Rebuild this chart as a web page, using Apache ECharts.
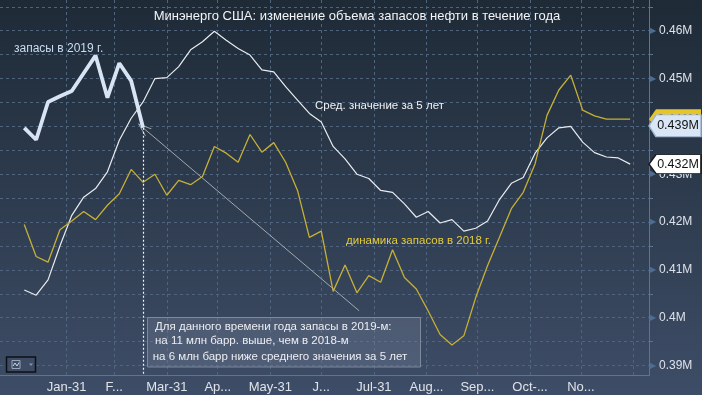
<!DOCTYPE html>
<html><head><meta charset="utf-8">
<script src="https://cdn.jsdelivr.net/npm/echarts@6/dist/echarts.min.js"></script>
<style>html,body{margin:0;padding:0;background:#2c3a4c}#c{width:702px;height:395px}</style>
</head><body><div id="c"></div>
<script>
// weekly reports: day-of-year of each week (week 1 ends Jan 6)
const weekDays = [];
for (let i = 0; i < 52; i++) weekDays.push(5 + 7 * i);

// 5-year average (M)
const avg5 = [0.4058,0.4047,0.4079,0.4150,0.4214,0.4252,0.4270,0.4305,0.4371,0.4417,
  0.4451,0.4500,0.4502,0.4525,0.4560,0.4577,0.4599,0.4580,0.4563,0.4549,
  0.4518,0.4514,0.4483,0.4455,0.4427,0.4409,0.4358,0.4332,0.4300,0.4291,
  0.4266,0.4262,0.4238,0.4210,0.4222,0.4198,0.4205,0.4181,0.4187,0.4202,
  0.4247,0.4281,0.4293,0.4344,0.4376,0.4397,0.4400,0.4367,0.4345,0.4336,
  0.4334,0.4321];
// 2018 stocks (M)
const y2018 = [0.4195,0.4128,0.4116,0.4184,0.4202,0.4222,0.4205,0.4235,0.4259,0.4310,
  0.4283,0.4300,0.4256,0.4287,0.4278,0.4295,0.4358,0.4344,0.4325,0.4383,
  0.4346,0.4366,0.4325,0.4266,0.4168,0.4181,0.4055,0.4110,0.4052,0.4088,
  0.4074,0.4142,0.4084,0.4060,0.4014,0.3965,0.3943,0.3962,0.4042,0.4109,
  0.4168,0.4228,0.4262,0.4322,0.4423,0.4476,0.4507,0.4434,0.4422,0.4415,
  0.4415,0.4415];
// 2019 stocks (M)
const y2019 = [0.4397,0.4372,0.4451,0.4463,0.4474,0.4511,0.4548,0.4460,0.4532,0.4495,0.4397];

// x ticks (month ends, day-of-year) and labels
const monthEnds = [30,58,89,119,150,180,211,242,272,303,333,364];
const monthLabels = ['Jan-31','F...','Mar-31','Ap...','May-31','J...','Jul-31','Aug...','Sep...','Oct-...','No...'];
// y ticks
const yTicks = [0.39,0.40,0.41,0.42,0.43,0.44,0.45,0.46];
const yMinor = [0.395,0.405,0.415,0.425,0.435,0.445,0.455,0.465];

const X_MIN = -9.3, X_MAX = 373.1, Y_MIN = 0.38787, Y_MAX = 0.46642;
const FONT = '"Liberation Sans", Arial, sans-serif';

const zip = (xs, ys) => ys.map((v, i) => [xs[i], v]);
const arrowPath = 'path://M5,0 L10,14 L9,14 L5,2.5 L1,14 L0,14 Z';
const tagPath = 'path://M0,11 L7,0 L52,0 L52,22 L7,22 Z';
const tag = (val, fill, stroke, txt, h, dy, z) => ({
  z: z, symbol: tagPath, symbolSize: [52, h], symbolOffset: [26, dy], silent: true,
  itemStyle: { color: fill, borderColor: stroke || fill, borderWidth: stroke ? 1 : 0 },
  label: { show: true, position: 'inside', offset: [3, 0], color: txt, fontSize: 12.5, fontFamily: FONT,
    formatter: () => (Math.floor(val * 1000 + 1e-6) / 1000).toFixed(3) + 'M' },
  data: [{ coord: [X_MAX, val] }]
});

const lastIdx19 = y2019.length - 1;
const chart = echarts.init(document.getElementById('c'));
chart.setOption({
  animation: false,
  backgroundColor: { type: 'linear', x: 0, y: 0, x2: 0, y2: 1,
    colorStops: [{ offset: 0, color: '#1e2a36' }, { offset: 1, color: '#3e4d67' }] },
  grid: { left: 0, right: 53, top: 0, bottom: 19.3 },
  xAxis: {
    type: 'value', min: X_MIN, max: X_MAX,
    axisLine: { show: true, onZero: false, lineStyle: { color: '#5a7694', width: 1 } },
    axisTick: { show: false, customValues: monthEnds },
    axisLabel: { customValues: monthEnds.slice(0, monthLabels.length), margin: 5,
      color: '#dfe3ea', fontSize: 13, fontFamily: FONT,
      formatter: v => monthLabels[monthEnds.indexOf(v)] || '' },
    splitLine: { show: true, lineStyle: { color: '#50647e', type: [3, 3], width: 1 } }
  },
  yAxis: {
    type: 'value', position: 'right', min: Y_MIN, max: Y_MAX,
    axisLine: { show: true, onZero: false, lineStyle: { color: '#5a7694', width: 1 } },
    axisTick: { show: true, customValues: yTicks.concat(yMinor), length: 4, lineStyle: { color: '#5a7694' } },
    axisLabel: { customValues: yTicks, margin: 1, color: '#dde2ea', fontSize: 12, fontFamily: FONT,
      formatter: v => '{t|▶}' + (+v.toFixed(2)) + 'M',
      rich: { t: { color: '#4d6e92', fontSize: 8, padding: [0, 3, 0, 0] } } },
    splitLine: { show: true, lineStyle: { color: '#50647e', type: [3, 3], width: 1 } }
  },
  series: [
    { name: '5y', type: 'line', data: zip(weekDays, avg5), symbol: 'none', z: 3,
      lineStyle: { color: '#e8ecf1', width: 1.2 },
      markPoint: tag(avg5[avg5.length - 1], '#ffffff', '#1a1a1a', '#111', 19, 0, 4),
      markLine: { silent: true, symbol: ['none', 'none'], label: { show: false },
        lineStyle: { color: '#a2a8b0', width: 1, type: 'solid' },
        data: [[{ coord: [202.3, 0.40145], symbol: 'none' },
                { coord: [weekDays[lastIdx19], y2019[lastIdx19]], symbol: arrowPath, symbolSize: [10, 14] }]] } },
    { name: '2018', type: 'line', data: zip(weekDays, y2018), symbol: 'none', z: 3,
      lineStyle: { color: '#c6b036', width: 1.3 },
      markPoint: tag(y2018[y2018.length - 1], '#e6c42c', null, '#222', 20, 0, 4) },
    { name: '2019', type: 'line', data: zip(weekDays, y2019), symbol: 'none', z: 5,
      lineStyle: { color: '#d8e4f3', width: 3.8 },
      markPoint: tag(y2019[lastIdx19], '#d9e6f5', '#9fb6d2', '#111', 22, -2, 7),
      markLine: { silent: true, symbol: ['none', 'none'], label: { show: false },
        lineStyle: { color: '#f2f2f2', width: 1.2, type: [2, 2] },
        data: [[{ coord: [weekDays[lastIdx19], y2019[lastIdx19]] }, { coord: [weekDays[lastIdx19], Y_MIN] }]] } }
  ],
  graphic: [
    { type: 'text', z: 10, style: { text: 'Минэнерго США: изменение объема запасов нефти в течение года',
      x: 357, y: 16.5, textAlign: 'center', textVerticalAlign: 'middle', fill: '#f2f4f7', font: '13px ' + FONT } },
    { type: 'text', z: 10, style: { text: 'запасы в 2019 г.', x: 14, y: 48.3, textVerticalAlign: 'middle',
      fill: '#c9dcf2', font: '12px ' + FONT } },
    { type: 'text', z: 10, style: { text: 'Сред. значение за 5 лет', x: 315, y: 106, textVerticalAlign: 'middle',
      fill: '#f0f2f5', font: '11.5px ' + FONT } },
    { type: 'text', z: 10, style: { text: 'динамика запасов в 2018 г.', x: 346, y: 240.7, textVerticalAlign: 'middle',
      fill: '#e3cb3a', font: '11.5px ' + FONT } },
    { type: 'rect', z: 9, shape: { x: 147.5, y: 317.5, width: 273, height: 49.5 },
      style: { fill: 'rgba(120,135,160,0.32)', stroke: '#7d8a9e', lineWidth: 1 } },
    { type: 'text', z: 10, style: { text: 'Для данного времени года запасы в 2019-м:', x: 155, y: 326.7,
      textVerticalAlign: 'middle', fill: '#eceef2', font: '11.5px ' + FONT } },
    { type: 'text', z: 10, style: { text: 'на 11 млн барр. выше, чем в 2018-м', x: 155, y: 341,
      textVerticalAlign: 'middle', fill: '#eceef2', font: '11.5px ' + FONT } },
    { type: 'text', z: 10, style: { text: 'на 6 млн барр ниже среднего значения за 5 лет', x: 152.7, y: 357,
      textVerticalAlign: 'middle', fill: '#eceef2', font: '11.5px ' + FONT } },
    { type: 'rect', z: 10, shape: { x: 6.5, y: 357, width: 29, height: 15 },
      style: { fill: '#3d4c64', stroke: '#0c1016', lineWidth: 1.5 } },
    { type: 'rect', z: 11, shape: { x: 12, y: 360.5, width: 8, height: 8 },
      style: { fill: 'none', stroke: '#9aa6b8', lineWidth: 1 } },
    { type: 'polyline', z: 11, shape: { points: [[13, 366], [15, 363], [17, 366], [19, 362.5]] },
      style: { stroke: '#cfd6e0', lineWidth: 1, fill: 'none' } },
    { type: 'polygon', z: 11, shape: { points: [[29, 363.5], [33, 363.5], [31, 366]] },
      style: { fill: '#8a96a8' } }
  ]
});
</script></body></html>
